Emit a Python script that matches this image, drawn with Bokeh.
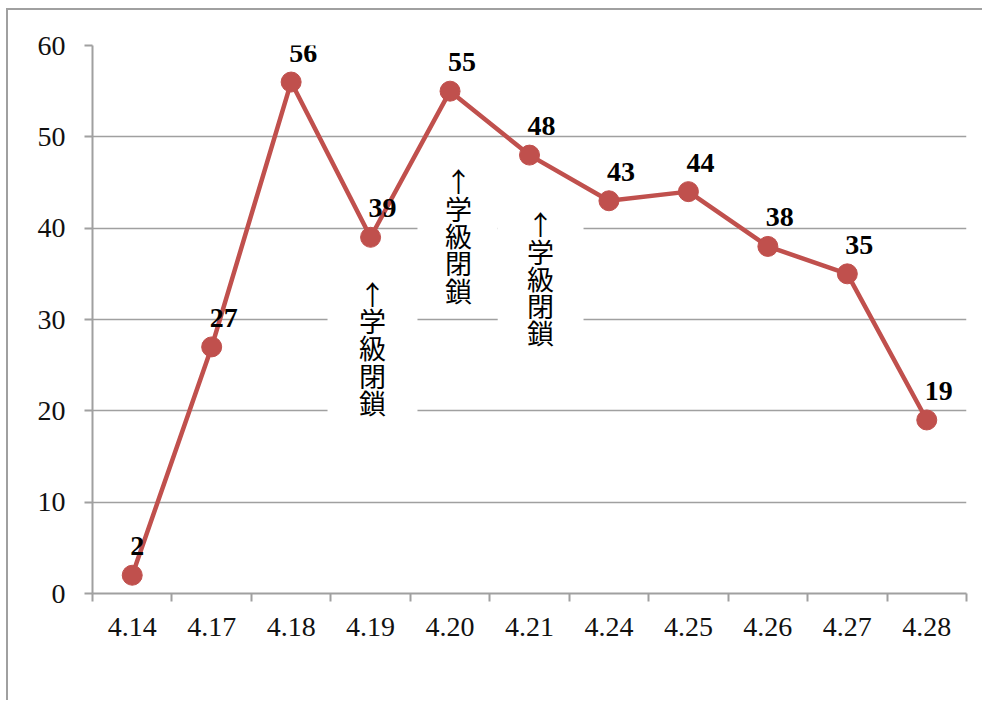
from bokeh.plotting import figure
from bokeh.models import LinearAxis, Range1d, FixedTicker, ColumnDataSource
from bokeh.embed import file_html
from bokeh.resources import INLINE
from bokeh.core.properties import value

# ---- data ----
dates = ["4.14", "4.17", "4.18", "4.19", "4.20", "4.21", "4.24", "4.25", "4.26", "4.27", "4.28"]
counts = [2, 27, 56, 39, 55, 48, 43, 44, 38, 35, 19]
y_ticks = [0, 10, 20, 30, 40, 50, 60]
note_text = "↑\n学\n級\n閉\n鎖"
note_dates = ["4.19", "4.20", "4.21"]

RED = "#c0504d"
GRAY = "#a0a0a0"
SERIF = "'Liberation Serif', serif"

n = len(dates)
W, H = 976, 692

p = figure(x_range=dates, y_range=Range1d(0, 60), width=W, height=H,
           output_backend="svg", toolbar_location=None, x_axis_location=None,
           min_border_left=84, min_border_right=18, min_border_top=35,
           min_border_bottom=109)
p.styles = {"border-top": f"2px solid {GRAY}", "border-left": f"2px solid {GRAY}",
            "margin-left": "6px", "margin-top": "8px"}
p.outline_line_color = None
p.background_fill_color = "white"
p.border_fill_color = "white"
for g in p.grid:
    if g.dimension == 0:
        g.visible = False

# x axis on the factor range's synthetic coordinates:
# labels at category centres, ticks at category boundaries
centres = [i + 0.5 for i in range(n)]
xa = LinearAxis(ticker=FixedTicker(ticks=centres, minor_ticks=list(range(n + 1))))
xa.major_label_overrides = {c: d for c, d in zip(centres, dates)}
xa.major_tick_line_color = None
xa.major_tick_out = 0
xa.major_tick_in = 0
xa.minor_tick_out = 8
xa.minor_tick_in = 0
xa.minor_tick_line_color = GRAY
xa.minor_tick_line_width = 2
xa.axis_line_color = GRAY
xa.axis_line_width = 2
xa.major_label_standoff = 16
xa.major_label_text_font = SERIF
xa.major_label_text_font_size = "28px"
xa.major_label_text_color = "#111111"
p.add_layout(xa, "below")

ya = p.yaxis[0]
ya.ticker = FixedTicker(ticks=y_ticks)
ya.major_tick_out = 8
ya.major_tick_in = 0
ya.major_tick_line_color = GRAY
ya.major_tick_line_width = 2
ya.minor_tick_line_color = None
ya.axis_line_color = GRAY
ya.axis_line_width = 2
ya.major_label_standoff = 19
ya.major_label_text_font = SERIF
ya.major_label_text_font_size = "28px"
ya.major_label_text_color = "#111111"

p.ygrid.ticker = FixedTicker(ticks=y_ticks)
p.ygrid.grid_line_color = GRAY
p.ygrid.grid_line_width = 1.5

# white boxes behind the annotations (cover the gridlines)
idx = [dates.index(d) + 0.5 for d in note_dates]
box_left = [idx[0] - 0.542, idx[1] - 0.41, idx[2] - 0.40]
box_right = [idx[0] + 0.59, idx[1] + 0.60, idx[2] + 0.68]
box_bottom = [19.0, 31.0, 25.5]
box_top = [35.5, 47.5, 43.0]
p.quad(left=box_left, right=box_right, bottom=box_bottom, top=box_top,
       fill_color="white", line_color=None)

src = ColumnDataSource(dict(date=dates, count=counts, label=[str(c) for c in counts]))
p.line(x="date", y="count", source=src, line_color=RED, line_width=4.5)
p.scatter(x="date", y="count", source=src, size=20, fill_color=RED, line_color=RED)
p.text(x="date", y="count", text="label", source=src, x_offset=-2, y_offset=-29,
       text_align="left", text_baseline="middle", text_font=value("Liberation Serif"),
       text_font_style="bold", text_font_size="28px", text_color="black")

note_x = [idx[0] + 0.024, idx[1] + 0.107, idx[2] + 0.139]
note_y = [26.9, 39.2, 34.5]
p.text(x=note_x, y=note_y, text=[note_text] * 3,
       text_align="center", text_baseline="middle",
       text_font=value("Noto Sans CJK JP"), text_font_size="27px",
       text_line_height=0.7, text_color="black")

open("out.html", "w").write(file_html(p, INLINE))
